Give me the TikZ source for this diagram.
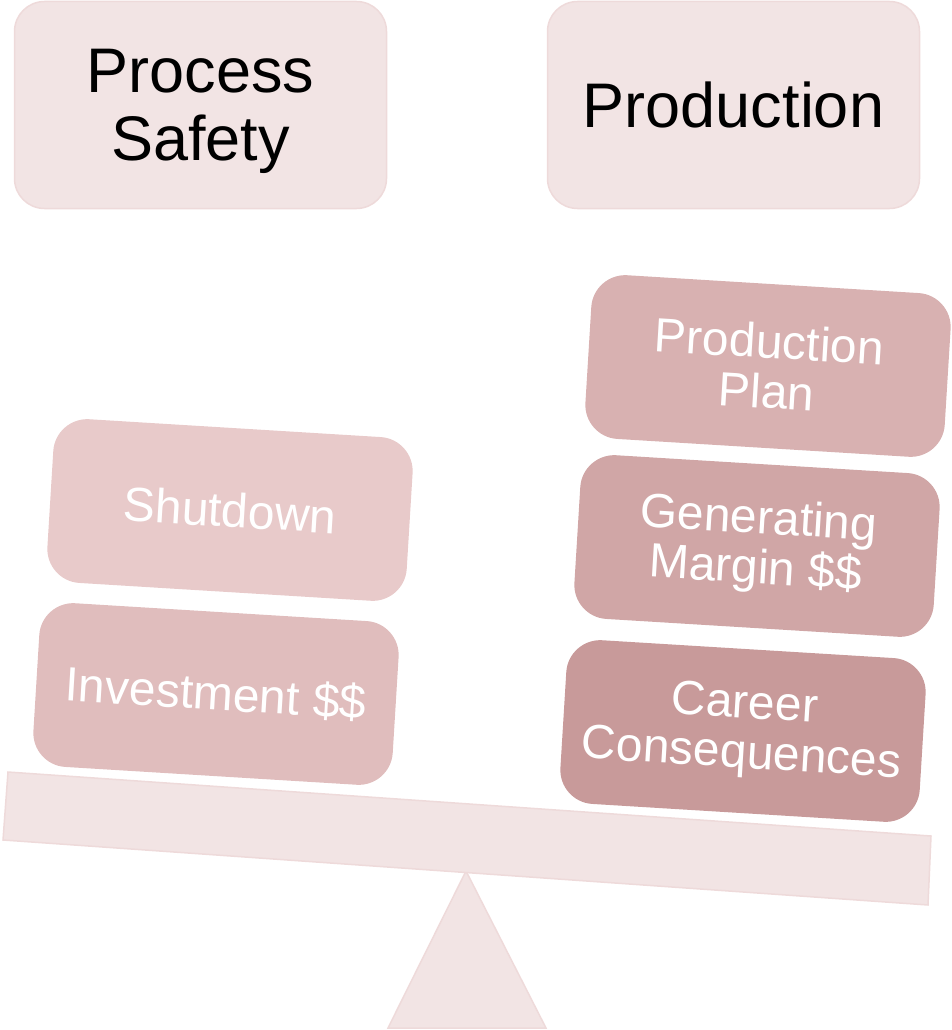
\documentclass[tikz,border=0pt]{standalone}
\usepackage{fontspec}
\setmainfont{Liberation Sans}
\definecolor{palebg}{HTML}{F2E4E4}
\definecolor{paleline}{HTML}{EEDADA}
\definecolor{wA}{HTML}{E8CACA}
\definecolor{wB}{HTML}{E0BDBD}
\definecolor{wC}{HTML}{D8B1B1}
\definecolor{wD}{HTML}{D0A6A6}
\definecolor{wE}{HTML}{C89A9A}
\begin{document}
\begin{tikzpicture}[x=1pt,y=-1pt,
  titlebox/.style={fill=palebg, draw=paleline, line width=1.5pt, rounded corners=30pt,
    minimum width=372pt, minimum height=207pt, align=center, text=black,
    font=\fontsize{63}{68}\selectfont},
  weightbox/.style={rotate=-3.5, rounded corners=34pt, minimum width=360pt, minimum height=164pt,
    align=center, text=white, font=\fontsize{48}{50}\selectfont},
  basepart/.style={fill=palebg, draw=paleline, line width=1.5pt}]
\useasboundingbox (0,0) rectangle (951,1030);
% fulcrum and beam
\draw[basepart] (466,871) -- (546,1028) -- (388,1028) -- cycle;
\draw[basepart] (8,772) -- (931,836) -- (928,905) -- (3,840) -- cycle;
% headings
\node[titlebox] (safety) at (200.5,105) {\rule{0pt}{56pt}Process\\Safety};
\node[titlebox] (production) at (733.5,105) {Production};
% left weights
\node[weightbox, fill=wA] (shutdown) at (230,510) {Shutdown};
\node[weightbox, fill=wB] (investment) at (216,694) {Investment \$\$};
% right weights
\node[weightbox, fill=wC] (plan) at (768,366) {Production\\Plan};
\node[weightbox, fill=wD] (margin) at (757,546) {Generating\\Margin \$\$};
\node[weightbox, fill=wE] (career) at (743,731) {Career\\Consequences};
\end{tikzpicture}
\end{document}
